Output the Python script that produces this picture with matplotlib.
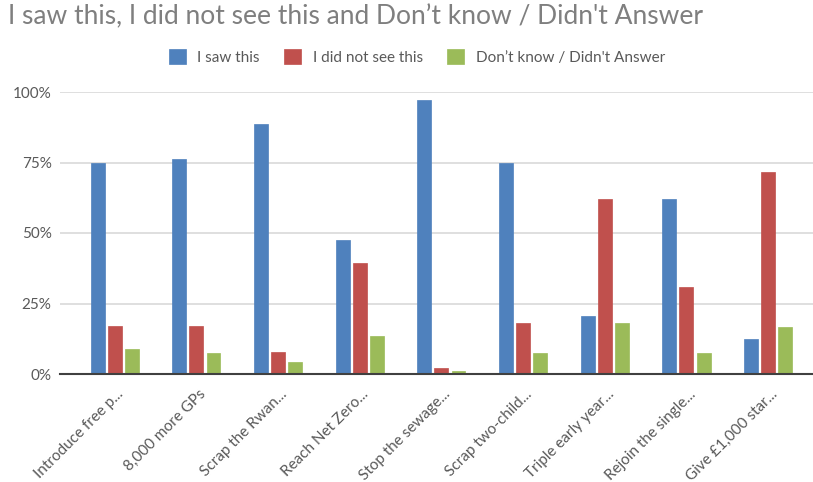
import matplotlib
matplotlib.use("Agg")
import matplotlib.pyplot as plt
import numpy as np
from matplotlib.ticker import FuncFormatter

# Data (fractions of respondents)
categories = ["Introduce free p...", "8,000 more GPs", "Scrap the Rwan...",
              "Reach Net Zero...", "Stop the sewage...", "Scrap two-child...",
              "Triple early year...", "Rejoin the single...", "Give £1,000 star..."]
saw = [0.747, 0.761, 0.885, 0.475, 0.970, 0.747, 0.206, 0.621, 0.124]
not_saw = [0.169, 0.169, 0.078, 0.394, 0.021, 0.180, 0.621, 0.307, 0.716]
dont_know = [0.089, 0.073, 0.043, 0.134, 0.012, 0.073, 0.180, 0.073, 0.165]

series_names = ["I saw this", "I did not see this", "Don\u2019t know / Didn't Answer"]
colors = ["#4F81BD", "#C0504D", "#9BBB59"]

plt.rcParams['font.family'] = ['Lato', 'DejaVu Sans']

fig = plt.figure(figsize=(8.13, 4.82), dpi=100)
ax = fig.add_axes([60 / 813, 1 - 374 / 482, 1 - 60 / 813, (374 - 92) / 482])

x = np.arange(len(categories))
width = 0.17
step = 0.21
for i, (vals, name, col) in enumerate(zip([saw, not_saw, dont_know], series_names, colors)):
    ax.bar(x + (i - 1) * step, vals, width, color=col, label=name, zorder=3,
           edgecolor=col, linewidth=0.5)

ax.set_xlim(-0.67, len(categories) - 0.45)
ax.set_ylim(0, 1.0)
ax.set_yticks([0, 0.25, 0.5, 0.75, 1.0])
ax.yaxis.set_major_formatter(FuncFormatter(lambda v, p: '{:.0f}%'.format(v * 100)))
ax.grid(axis='y', color='#D9D9D9', linewidth=1.2, zorder=0)
ax.set_axisbelow(True)
for s in ['top', 'right', 'left']:
    ax.spines[s].set_visible(False)
ax.spines['bottom'].set_color('#404040')
ax.spines['bottom'].set_linewidth(1.5)
ax.spines['bottom'].set_zorder(4)
ax.tick_params(axis='y', length=0, labelsize=11, labelcolor='#595959', pad=6)
ax.set_xticks(x)
ax.set_xticklabels([])
ax.tick_params(axis='x', length=0)

# rotated category labels, upper end just right of each group centre
for xi, lab in zip(x, categories):
    ax.annotate(lab, xy=(xi, 0), xycoords='data', xytext=(5, -13), textcoords='offset points',
                rotation=45, rotation_mode='anchor', ha='right', va='center',
                fontsize=11, color='#595959', annotation_clip=False)

fig.text(8 / 813, 1 - 17 / 482, "I saw this, I did not see this and Don\u2019t know / Didn't Answer",
         fontsize=19, color='#7F7F7F', va='center', ha='left')

fig.legend(loc='center', bbox_to_anchor=(417 / 813, 1 - 57 / 482), ncol=3, frameon=False,
           fontsize=11, labelcolor='#595959', handlelength=1.1, handleheight=1.1,
           columnspacing=1.6, handletextpad=0.75)

fig.savefig("out.png", dpi=100)
